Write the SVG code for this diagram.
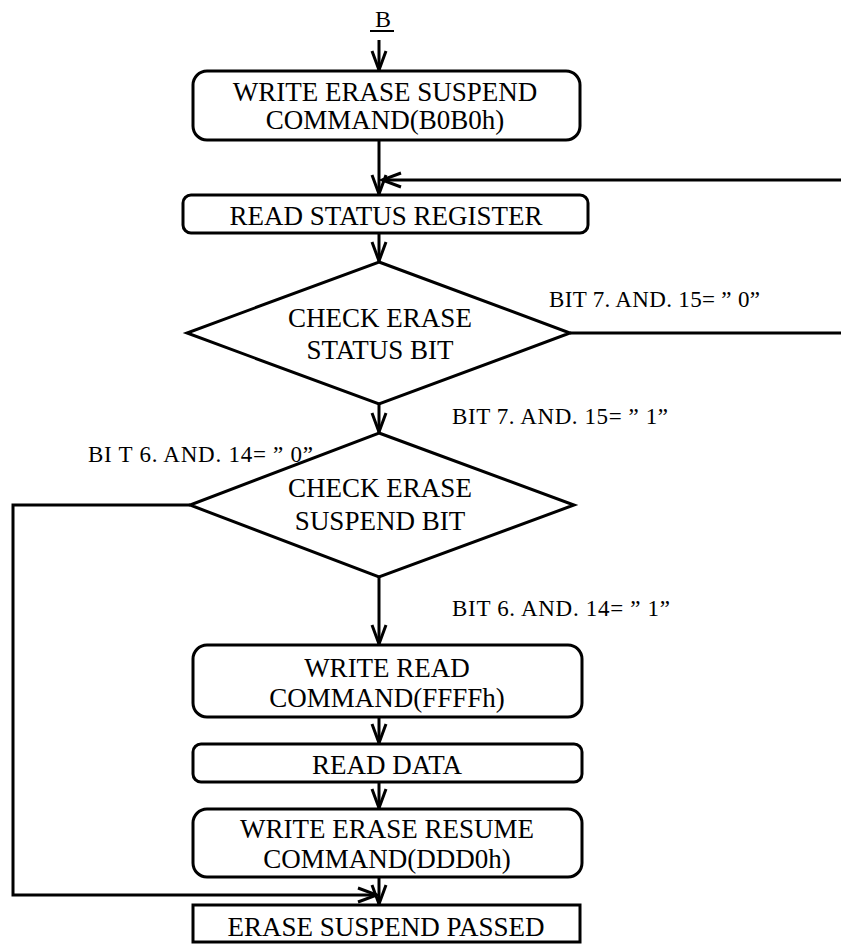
<svg xmlns="http://www.w3.org/2000/svg" width="841" height="944" viewBox="0 0 841 944">
  <style>
    .box { fill: #fff; stroke: #000; stroke-width: 3; }
    .t { font-family: "Liberation Serif", "Times New Roman", serif; font-size: 27px; fill: #000; text-anchor: middle; }
    .lbl { font-family: "Liberation Serif", "Times New Roman", serif; font-size: 23px; fill: #000; }
    .ln { fill: none; stroke: #000; stroke-width: 3; }
  </style>
  <defs>
    <marker id="arr" viewBox="-21 -10 23 20" refX="0" refY="0" markerWidth="23" markerHeight="20" orient="auto" markerUnits="userSpaceOnUse">
      <path d="M-19,-7 L0,0 L-19,7" fill="none" stroke="#000" stroke-width="3"/>
    </marker>
  </defs>
  <rect width="841" height="944" fill="#fff"/>

  <!-- entry label -->
  <g id="entry">
    <text x="383" y="27" class="t" style="font-size:24px">B</text>
    <line x1="370" y1="31" x2="394" y2="31" stroke="#000" stroke-width="2"/>
  </g>

  <!-- connectors -->
  <g id="connectors" class="ln">
    <path d="M379,40 V70" marker-end="url(#arr)"/>
    <path d="M379,140 V194" marker-end="url(#arr)"/>
    <path d="M570,333 H843"/>
    <path d="M843,180 H382" marker-end="url(#arr)"/>
    <path d="M379,233 V261" marker-end="url(#arr)"/>
    <path d="M379,404 V432" marker-end="url(#arr)"/>
    <path d="M379,577 V644" marker-end="url(#arr)"/>
    <path d="M379,717 V743" marker-end="url(#arr)"/>
    <path d="M379,782 V808" marker-end="url(#arr)"/>
    <path d="M379,877 V904" marker-end="url(#arr)"/>
    <path d="M190,505 H13 V895 H377" marker-end="url(#arr)"/>
  </g>

  <g id="n1">
    <rect class="box" x="193" y="71" width="387" height="69" rx="14"/>
    <text class="t" x="385" y="101">WRITE ERASE SUSPEND</text>
    <text class="t" x="385" y="129">COMMAND(B0B0h)</text>
  </g>

  <g id="n2">
    <rect class="box" x="183" y="195" width="405" height="38" rx="8"/>
    <text class="t" x="386" y="225">READ STATUS REGISTER</text>
  </g>

  <g id="n3">
    <polygon class="box" points="379,262 570,333 379,404 187,333"/>
    <text class="t" x="380" y="327">CHECK ERASE</text>
    <text class="t" x="380" y="359">STATUS BIT</text>
  </g>
  <text class="lbl" x="549" y="307" textLength="211">BIT 7. AND. 15= ” 0”</text>
  <text class="lbl" x="452" y="424" textLength="216">BIT 7. AND. 15= ” 1”</text>

  <g id="n4">
    <polygon class="box" points="379,433 574,505 379,577 190,505"/>
    <text class="t" x="380" y="497">CHECK ERASE</text>
    <text class="t" x="380" y="530">SUSPEND BIT</text>
  </g>
  <text class="lbl" x="88" y="462" textLength="225">BI T 6. AND. 14= ” 0”</text>
  <text class="lbl" x="452" y="616" textLength="218">BIT 6. AND. 14= ” 1”</text>

  <g id="n5">
    <rect class="box" x="193" y="645" width="389" height="72" rx="14"/>
    <text class="t" x="387" y="677">WRITE READ</text>
    <text class="t" x="387" y="707">COMMAND(FFFFh)</text>
  </g>

  <g id="n6">
    <rect class="box" x="193" y="744" width="389" height="38" rx="8"/>
    <text class="t" x="387" y="774">READ DATA</text>
  </g>

  <g id="n7">
    <rect class="box" x="193" y="809" width="389" height="68" rx="14"/>
    <text class="t" x="387" y="838">WRITE ERASE RESUME</text>
    <text class="t" x="387" y="868">COMMAND(DDD0h)</text>
  </g>

  <g id="n8">
    <rect class="box" x="193" y="905" width="387" height="37"/>
    <text class="t" x="386" y="936">ERASE SUSPEND PASSED</text>
  </g>
</svg>
